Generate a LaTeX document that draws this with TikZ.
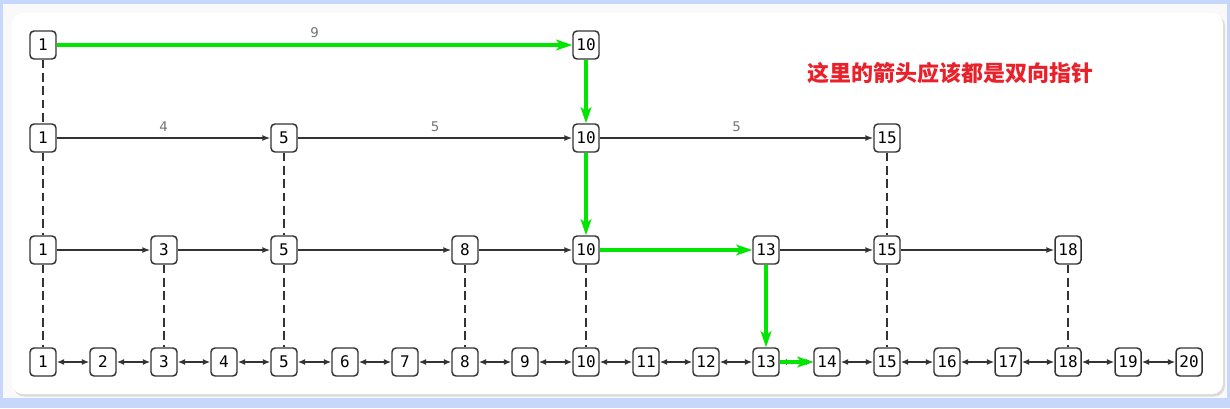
\documentclass[tikz,border=0pt]{standalone}
\usepackage{fontspec}
\usepackage{tikz}
\usetikzlibrary{arrows.meta}
\newfontfamily\nodefont{DejaVu Sans Mono}
\newfontfamily\labelfont{DejaVu Sans}
\newfontfamily\cjk{Noto Sans CJK SC}
\definecolor{framblue}{HTML}{C7D6FB}
\definecolor{linegray}{HTML}{333333}
\definecolor{pathgreen}{HTML}{00E600}
\definecolor{notered}{HTML}{E8212B}
\tikzstyle{block} = [rectangle, rounded corners=3pt, draw=linegray, line width=1.1pt,
                     fill=white, minimum width=19.5pt, minimum height=21pt,
                     inner sep=1pt, font=\nodefont\fontsize{12}{12}\selectfont]
\tikzstyle{level} = [draw=linegray, line width=1.1pt, -{Latex[length=6pt,width=4.5pt]}]
\tikzstyle{base} = [draw=linegray, line width=1.1pt,
                    {Latex[length=5.5pt,width=4.5pt]}-{Latex[length=5.5pt,width=4.5pt]}]
\tikzstyle{down} = [draw=linegray, line width=1.1pt, dash pattern=on 6.5pt off 3.5pt]
\tikzstyle{search} = [draw=pathgreen, line width=2.3pt,
                      -{Stealth[length=12pt,width=8pt,inset=3pt]}]
\tikzstyle{weight} = [midway, above=3pt, inner sep=1pt, text=gray!90!black,
                      font=\labelfont\fontsize{10}{10}\selectfont]

\begin{document}
\begin{tikzpicture}[x=0.75pt, y=-0.75pt]
\useasboundingbox (0,0) rectangle (1230,408);
% Frame
\fill[framblue] (0,0) rectangle (1230,408);
\fill[gray!5] (3,4) rectangle (1227,398);
\fill[black!14, rounded corners=8pt] (13.5,15) rectangle (1225,396.5);
\fill[white, rounded corners=8pt] (12,13) rectangle (1223,394);

% Level 4
\node[block] (d1) at (43,45) {1};
\node[block] (d10) at (586,45) {10};
% Level 3
\node[block] (c1) at (43,138) {1};
\node[block] (c5) at (284,138) {5};
\node[block] (c10) at (586,138) {10};
\node[block] (c15) at (887,138) {15};
% Level 2
\node[block] (b1) at (43,250) {1};
\node[block] (b3) at (164,250) {3};
\node[block] (b5) at (284,250) {5};
\node[block] (b8) at (465,250) {8};
\node[block] (b10) at (586,250) {10};
\node[block] (b13) at (766,250) {13};
\node[block] (b15) at (887,250) {15};
\node[block] (b18) at (1068,250) {18};
% Level 1
\node[block] (a1) at (43,362) {1};
\node[block] (a2) at (103,362) {2};
\node[block] (a3) at (164,362) {3};
\node[block] (a4) at (224,362) {4};
\node[block] (a5) at (284,362) {5};
\node[block] (a6) at (345,362) {6};
\node[block] (a7) at (405,362) {7};
\node[block] (a8) at (465,362) {8};
\node[block] (a9) at (525,362) {9};
\node[block] (a10) at (586,362) {10};
\node[block] (a11) at (646,362) {11};
\node[block] (a12) at (706,362) {12};
\node[block] (a13) at (766,362) {13};
\node[block] (a14) at (827,362) {14};
\node[block] (a15) at (887,362) {15};
\node[block] (a16) at (947,362) {16};
\node[block] (a17) at (1008,362) {17};
\node[block] (a18) at (1068,362) {18};
\node[block] (a19) at (1128,362) {19};
\node[block] (a20) at (1189,362) {20};

% Note
\node[text=notered, font=\cjk\bfseries\fontsize{16.5}{16.5}\selectfont] (note) at (950,73) {这里的箭头应该都是双向指针};

% Level 4 links
\draw[search] (d1) -- node[weight]{9} (d10);
\draw[down] (d1) -- (c1);
\draw[search] (d10) -- (c10);
% Level 3 links
\draw[level] (c1) -- node[weight]{4} (c5);
\draw[level] (c5) -- node[weight]{5} (c10);
\draw[level] (c10) -- node[weight]{5} (c15);
\draw[down] (c1) -- (b1);
\draw[down] (c5) -- (b5);
\draw[search] (c10) -- (b10);
\draw[down] (c15) -- (b15);
% Level 2 links
\draw[level] (b1) -- (b3);
\draw[level] (b3) -- (b5);
\draw[level] (b5) -- (b8);
\draw[level] (b8) -- (b10);
\draw[search] (b10) -- (b13);
\draw[level] (b13) -- (b15);
\draw[level] (b15) -- (b18);
\draw[down] (b1) -- (a1);
\draw[down] (b3) -- (a3);
\draw[down] (b5) -- (a5);
\draw[down] (b8) -- (a8);
\draw[down] (b10) -- (a10);
\draw[search] (b13) -- (a13);
\draw[down] (b15) -- (a15);
\draw[down] (b18) -- (a18);
% Level 1 links
\draw[base] (a1) -- (a2);
\draw[base] (a2) -- (a3);
\draw[base] (a3) -- (a4);
\draw[base] (a4) -- (a5);
\draw[base] (a5) -- (a6);
\draw[base] (a6) -- (a7);
\draw[base] (a7) -- (a8);
\draw[base] (a8) -- (a9);
\draw[base] (a9) -- (a10);
\draw[base] (a10) -- (a11);
\draw[base] (a11) -- (a12);
\draw[base] (a12) -- (a13);
\draw[base] (a13) -- (a14);
\draw[search] (a13) -- (a14);
\draw[base] (a14) -- (a15);
\draw[base] (a15) -- (a16);
\draw[base] (a16) -- (a17);
\draw[base] (a17) -- (a18);
\draw[base] (a18) -- (a19);
\draw[base] (a19) -- (a20);
\end{tikzpicture}
\end{document}
